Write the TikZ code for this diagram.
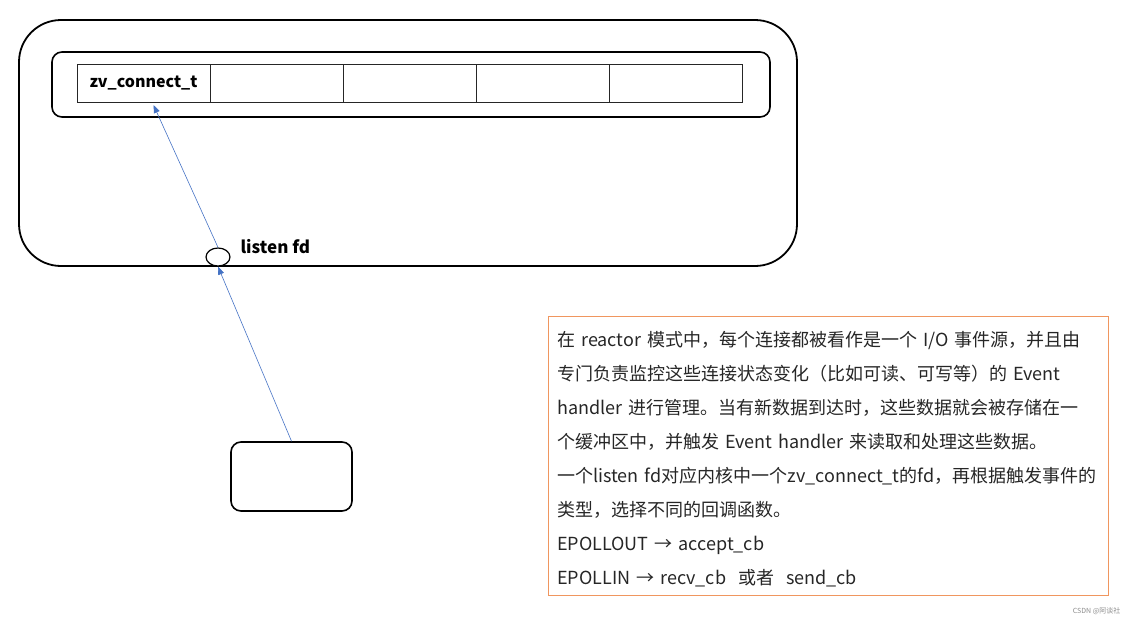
\documentclass[tikz,border=0pt]{standalone}
\usepackage{fontspec}
\setmainfont{Noto Sans CJK SC}
\usetikzlibrary{arrows.meta}
\usetikzlibrary{positioning}
\usetikzlibrary{shapes.geometric}
\definecolor{linkColor}{RGB}{68,114,196}
\definecolor{noteColor}{RGB}{240,150,95}
\definecolor{txtColor}{RGB}{38,38,38}
\tikzset{
  outerbox/.style={draw=black, line width=1.8pt, rounded corners=42pt, minimum width=778pt, minimum height=246pt, inner sep=0pt},
  innerbox/.style={draw=black, line width=1.6pt, rounded corners=10pt, minimum width=718pt, minimum height=65pt, inner sep=0pt},
  cell/.style={draw=black!85, line width=1pt, minimum width=133pt, minimum height=38pt, inner sep=0pt, outer sep=0pt, font=\fontsize{16}{18}\selectfont\bfseries},
  fdhole/.style={draw=black, line width=1.2pt, ellipse, minimum width=24pt, minimum height=18pt, inner sep=0pt, fill=white},
  appbox/.style={draw=black, line width=1.6pt, rounded corners=10pt, minimum width=121pt, minimum height=69pt, inner sep=0pt},
  link/.style={color=linkColor, line width=0.6pt, -{Triangle[length=8pt, width=6pt]}},
  note/.style={draw=noteColor, line width=1pt, minimum width=560pt, minimum height=279pt, inner sep=0pt}
}
\begin{document}
\begin{tikzpicture}[x=1pt, y=-1pt]
\useasboundingbox (0,0) rectangle (1127,619);

% kernel side
\node[outerbox] (kernel) at (408,143) {};
\node[innerbox] (queue) at (411,84.5) {};
\node[cell] (c1) at (143.5,83) {zv\_connect\_t};
\node[cell, right=0pt of c1] (c2) {};
\node[cell, right=0pt of c2] (c3) {};
\node[cell, right=0pt of c3] (c4) {};
\node[cell, right=0pt of c4] (c5) {};

\node[fdhole] (fd) at (218,257) {};
\node[font=\fontsize{17}{18}\selectfont\bfseries, anchor=west] (fdlabel) at (237,247) {listen fd};

% user side
\node[appbox] (app) at (291.5,476.5) {};
\coordinate (hit) at ([xshift=10pt, yshift=-3pt]c1.south);
\draw[link] (app.north) -- (fd.south);
\draw[link] (fd.north) -- (hit);

% note
\node[note, anchor=north west] (notebox) at (548,316) {};
\node[anchor=north west, inner sep=0pt, text width=548pt, align=left, text=txtColor,
      font=\fontsize{18}{34}\selectfont] (notetext) at (557,331) {%
在 reactor 模式中，每个连接都被看作是一个 I/O 事件源，并且由\\
专门负责监控这些连接状态变化（比如可读、可写等）的 Event\\
handler 进行管理。当有新数据到达时，这些数据就会被存储在一\\
个缓冲区中，并触发 Event handler 来读取和处理这些数据。\\
一个listen fd对应内核中一个zv\_connect\_t的fd，再根据触发事件的\\
类型，选择不同的回调函数。\\
EPOLLOUT → accept\_cb\\
EPOLLIN → recv\_cb\ \ 或者\ \ send\_cb};

\node[anchor=east, text=black!45, font=\fontsize{7}{8}\selectfont] (mark) at (1124,611) {CSDN @阿谈社};
\end{tikzpicture}
\end{document}
